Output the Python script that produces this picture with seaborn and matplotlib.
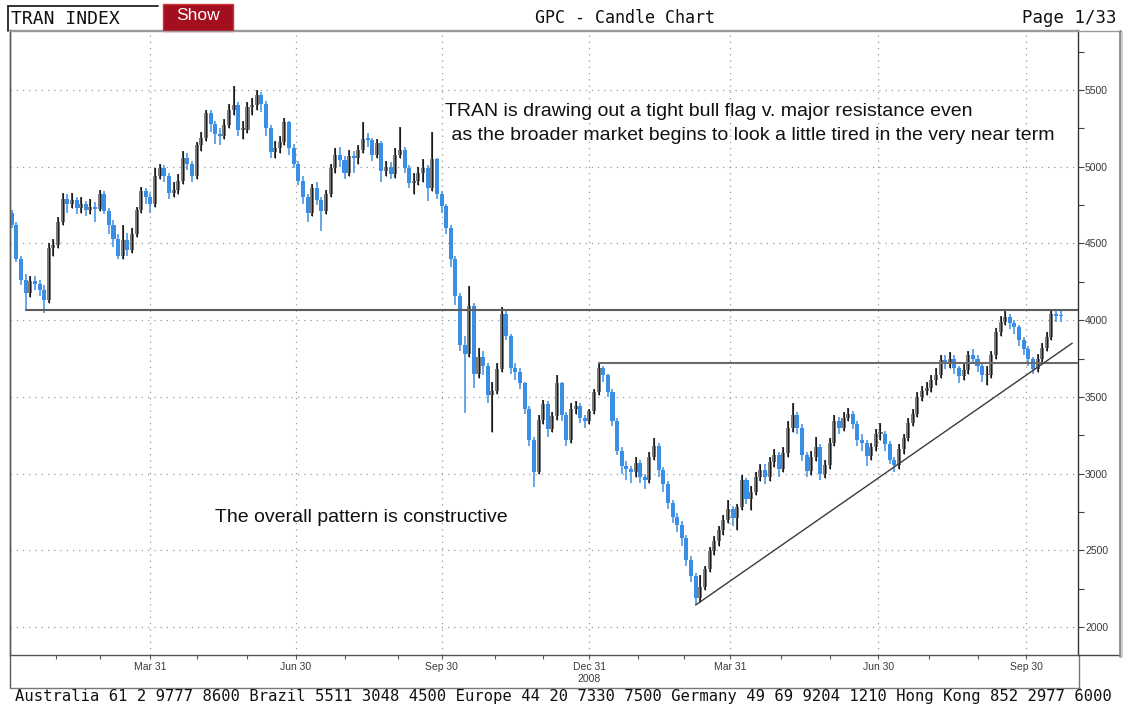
import numpy as np
import pandas as pd
import matplotlib
matplotlib.use("Agg")
import matplotlib.pyplot as plt
import seaborn as sns
from matplotlib.lines import Line2D
from matplotlib.patches import Rectangle
from pandas.tseries.offsets import CustomBusinessDay

# ---------------- data ----------------
# one candle per two trading days, starting 3 Jan 2007
first_open = 4700
close = [
    4621, 4400, 4260, 4180, 4255, 4235, 4200, 4132, 4470, 4490,
    4640, 4790, 4760, 4784, 4730, 4755, 4720, 4735, 4725, 4825,
    4715, 4621, 4530, 4420, 4520, 4460, 4560, 4720, 4840, 4805,
    4760, 4940, 4990, 4940, 4830, 4850, 4905, 5060, 5020, 4940,
    5140, 5190, 5350, 5280, 5215, 5200, 5275, 5370, 5400, 5240,
    5240, 5390, 5400, 5470, 5410, 5250, 5095, 5125, 5160, 5290,
    5120, 5020, 4910, 4800, 4700, 4860, 4785, 4710, 4820, 4990,
    5080, 5045, 4960, 5070, 5055, 5110, 5180, 5175, 5080, 5156,
    4970, 5000, 4950, 5080, 5110, 4995, 4895, 4910, 4960, 4990,
    4860, 5050, 4820, 4745, 4600, 4400, 4160, 3840, 3780, 4090,
    3650, 3760, 3700, 3510, 3540, 3680, 4040, 3900, 3690, 3660,
    3590, 3420, 3220, 3010, 3350, 3455, 3290, 3375, 3590, 3380,
    3220, 3420, 3440, 3360, 3340, 3405, 3530, 3690, 3640, 3530,
    3340, 3150, 3050, 3030, 3010, 3070, 2975, 2955, 3110, 3180,
    3020, 2935, 2810, 2720, 2665, 2580, 2435, 2330, 2190, 2260,
    2380, 2495, 2560, 2630, 2700, 2770, 2710, 2780, 2955, 2835,
    2880, 2980, 3025, 2975, 3075, 3120, 3030, 3135, 3300, 3385,
    3300, 3120, 3015, 3110, 3170, 3000, 3056, 3200, 3345, 3300,
    3360, 3390, 3320, 3220, 3200, 3115, 3170, 3260, 3260, 3190,
    3090, 3056, 3160, 3230, 3330, 3390, 3500, 3540, 3560, 3610,
    3640, 3740, 3720, 3750, 3685, 3635, 3675, 3770, 3750, 3700,
    3640, 3640, 3770, 3920, 3990, 4020, 3980, 3956, 3870, 3810,
    3745, 3680, 3750, 3820, 3890, 4040, 4030, 4025,
]
high = [
    4720, 4640, 4420, 4300, 4290, 4290, 4260, 4230, 4500, 4530,
    4670, 4830, 4820, 4830, 4800, 4800, 4780, 4790, 4770, 4850,
    4840, 4730, 4650, 4560, 4620, 4570, 4600, 4740, 4870, 4860,
    4830, 4990, 5020, 5010, 4960, 4900, 4950, 5100, 5090, 5040,
    5160, 5230, 5370, 5370, 5300, 5250, 5310, 5410, 5530, 5420,
    5300, 5420, 5450, 5500, 5490, 5430, 5270, 5170, 5200, 5320,
    5300, 5150, 5040, 4940, 4820, 4890, 4900, 4800, 4850, 5020,
    5120, 5130, 5070, 5110, 5100, 5140, 5290, 5220, 5190, 5180,
    5170, 5040, 5030, 5120, 5260, 5130, 5010, 4960, 5000, 5050,
    5010, 5230, 5060, 4840, 4760, 4620, 4420, 4180, 3900, 4220,
    4110, 3820, 3800, 3720, 3600, 3720, 4085, 4060, 3910, 3720,
    3690, 3600, 3440, 3240, 3380, 3480, 3470, 3400, 3640, 3600,
    3400, 3460, 3470, 3460, 3380, 3420, 3550, 3720, 3700, 3650,
    3550, 3360, 3170, 3080, 3050, 3110, 3090, 3000, 3140, 3230,
    3200, 3040, 2950, 2830, 2740, 2690, 2600, 2460, 2350, 2340,
    2400, 2520, 2590, 2660, 2730, 2830, 2790, 2800, 2990, 2970,
    2920, 3010, 3060, 3060, 3110, 3160, 3140, 3170, 3340, 3460,
    3400, 3320, 3140, 3150, 3240, 3190, 3090, 3230, 3380, 3370,
    3400, 3430, 3410, 3340, 3260, 3220, 3200, 3290, 3330, 3280,
    3210, 3110, 3190, 3260, 3360, 3420, 3530, 3570, 3600, 3640,
    3690, 3770, 3770, 3790, 3770, 3700, 3720, 3800, 3810, 3770,
    3720, 3700, 3800, 3950, 4030, 4060, 4040, 4000, 3970, 3890,
    3830, 3760, 3780, 3850, 3920, 4070, 4070, 4060,
]
low = [
    4600, 4380, 4230, 4067, 4150, 4200, 4160, 4047, 4110, 4420,
    4470, 4620, 4700, 4730, 4690, 4700, 4680, 4690, 4640, 4710,
    4690, 4560, 4480, 4400, 4400, 4420, 4440, 4540, 4700, 4760,
    4700, 4740, 4920, 4900, 4790, 4800, 4820, 4890, 4980, 4900,
    4920, 5100, 5170, 5230, 5150, 5140, 5180, 5250, 5340, 5200,
    5180, 5220, 5340, 5370, 5360, 5200, 5060, 5060, 5090, 5140,
    5080, 4990, 4880, 4760, 4640, 4680, 4750, 4580, 4690, 4800,
    4960, 5000, 4920, 4940, 4960, 5020, 5090, 5130, 5040, 5060,
    4900, 4940, 4920, 4930, 5060, 4960, 4860, 4820, 4880, 4900,
    4780, 4840, 4790, 4700, 4560, 4350, 4100, 3800, 3395, 3760,
    3560, 3620, 3640, 3460, 3270, 3520, 3660, 3870, 3650, 3610,
    3550, 3390, 3180, 2913, 3000, 3320, 3240, 3270, 3350, 3340,
    3180, 3200, 3390, 3330, 3300, 3320, 3390, 3510, 3600, 3500,
    3310, 3120, 3000, 2960, 2940, 2980, 2940, 2900, 2940, 3090,
    2980, 2880, 2770, 2680, 2620, 2530, 2400, 2290, 2143, 2160,
    2240, 2360, 2470, 2530, 2600, 2680, 2660, 2630, 2760, 2800,
    2760, 2860, 2950, 2930, 2950, 3040, 2980, 3010, 3110, 3270,
    3260, 3080, 2980, 2990, 3080, 2960, 2970, 3030, 3180, 3260,
    3280, 3340, 3290, 3180, 3150, 3050, 3090, 3150, 3220, 3150,
    3060, 3010, 3030, 3130, 3210, 3310, 3370, 3470, 3510, 3530,
    3580, 3620, 3680, 3690, 3650, 3590, 3610, 3650, 3720, 3660,
    3600, 3580, 3620, 3750, 3900, 3970, 3940, 3910, 3830, 3770,
    3700, 3650, 3660, 3730, 3800, 3870, 3990, 3990,
]

# NYSE holidays for the trading-day axis
holidays = ["2007-01-01", "2007-01-02", "2007-01-15", "2007-02-19", "2007-04-06",
            "2007-05-28", "2007-07-04", "2007-09-03", "2007-11-22", "2007-12-25",
            "2008-01-01", "2008-01-21", "2008-02-18", "2008-03-21", "2008-05-26",
            "2008-07-04", "2008-09-01", "2008-11-27", "2008-12-25"]
quarter_dates = ["2007-03-30", "2007-06-29", "2007-09-28", "2007-12-31",
                 "2008-03-31", "2008-06-30", "2008-09-30"]
quarter_labels = ["Mar 31", "Jun 30", "Sep 30", "Dec 31\n2008", "Mar 31", "Jun 30", "Sep 30"]

resistance_level = 4065
neckline_level = 3720
neckline_start_candle = 127
trend_start = (148, 2143)      # (candle, value)
trend_end = (229.5, 3850)      # (candle, value)

y_ticks = [2000, 2500, 3000, 3500, 4000, 4500, 5000, 5500]

text_top1 = "TRAN is drawing out a tight bull flag v. major resistance even"
text_top2 = " as the broader market begins to look a little tired in the very near term"
text_mid = "The overall pattern is constructive"
footer = ("Australia 61 2 9777 8600 Brazil 5511 3048 4500 Europe 44 20 7330 7500 "
          "Germany 49 69 9204 1210 Hong Kong 852 2977 6000")

# ---------------- figure ----------------
sns.set_theme(style="white")
plt.rcParams["font.family"] = ["Liberation Sans", "DejaVu Sans"]

W, H = 1124, 708
fig = plt.figure(figsize=(W / 100, H / 100), dpi=100)
fig.patch.set_facecolor("white")


def fx(px):
    return px / W


def fy(py):
    return 1 - py / H


ax = fig.add_axes([fx(10), fy(655), (1078 - 10) / W, (655 - 30) / H])
ax.set_facecolor("white")

cbd = CustomBusinessDay(holidays=pd.to_datetime(holidays))
days = pd.date_range("2007-01-03", "2008-12-31", freq=cbd)
day_index = pd.Series(np.arange(len(days)), index=days)

c = np.array(close, float)
o = np.r_[first_open, c[:-1]]
h = np.maximum(np.array(high, float), np.maximum(o, c))
l = np.minimum(np.array(low, float), np.minimum(o, c))
pos = np.arange(len(c)) * 2.0   # trading-day index of each candle

up = c >= o
blue = "#3a8ee6"
body_col = np.where(up, "#7d7d7d", blue)
wick_col = np.where(up, "#1a1a1a", blue)

ax.vlines(pos, l, h, colors=wick_col, linewidth=1.1, zorder=3)
ax.bar(pos, np.maximum(np.abs(c - o), 10), bottom=np.minimum(o, c), width=1.75,
       color=body_col, linewidth=0, zorder=4)
ax.vlines(pos[up], l[up], h[up], colors="#1a1a1a", linewidth=0.8, zorder=5)

xmax = 461.5
res_df = pd.DataFrame({"x": [pos[3], xmax], "y": [resistance_level] * 2})
neck_df = pd.DataFrame({"x": [pos[neckline_start_candle], xmax], "y": [neckline_level] * 2})
trend_df = pd.DataFrame({"x": [trend_start[0] * 2, trend_end[0] * 2],
                         "y": [trend_start[1], trend_end[1]]})
sns.lineplot(data=res_df, x="x", y="y", ax=ax, color="#5c5c5c", linewidth=1.5, zorder=6)
sns.lineplot(data=neck_df, x="x", y="y", ax=ax, color="#6a6a6a", linewidth=1.5, zorder=6)
sns.lineplot(data=trend_df, x="x", y="y", ax=ax, color="#3a3a3a", linewidth=1.0, zorder=6)

ax.set_xlim(-0.8, xmax)
ax.set_ylim(1817, 5892)
ax.set_xlabel("")
ax.set_ylabel("")

q_pos = day_index.loc[pd.to_datetime(quarter_dates)].values
month_end = day_index.groupby(days.to_period("M")).max().values
month_end = month_end[month_end < xmax]
ax.set_xticks(q_pos)
ax.set_xticklabels(quarter_labels)
ax.set_xticks(month_end, minor=True)
ax.tick_params(axis="x", which="both", direction="out", length=3, width=0.8,
               color="#555555", labelsize=7.5, labelcolor="#3a3a3a", pad=2, bottom=True)

ax.yaxis.tick_right()
ax.set_yticks(y_ticks)
ax.set_yticklabels([str(v) for v in y_ticks])
ax.set_yticks(np.arange(2250, 5800, 500), minor=True)
ax.tick_params(axis="y", which="both", direction="out", length=4, width=0.8,
               color="#444444", labelsize=7.5, labelcolor="#3a3a3a", pad=1, right=True, left=False)

ax.grid(True, which="major", linestyle=(0, (1, 4)), color="#9a9a9a", linewidth=0.9)
ax.set_axisbelow(True)
for side, col in [("left", "#5a5a5a"), ("top", "#9a9a9a"), ("right", "#333333"), ("bottom", "#555555")]:
    ax.spines[side].set_visible(True)
    ax.spines[side].set_color(col)
    ax.spines[side].set_linewidth(1.0)

# frame decorations
fig.add_artist(Line2D([fx(10), fx(10)], [fy(30), fy(688)], color="#5a5a5a", lw=1.0))
fig.add_artist(Line2D([fx(10), fx(1080)], [fy(688), fy(688)], color="#777777", lw=1.0))
fig.add_artist(Line2D([fx(1079), fx(1079)], [fy(655), fy(688)], color="#777777", lw=1.0))
fig.add_artist(Line2D([fx(10), fx(1121)], [fy(30.5), fy(30.5)], color="#9a9a9a", lw=1.0))
fig.add_artist(Line2D([fx(1078), fx(1120)], [fy(655), fy(655)], color="#444444", lw=1.0))
fig.add_artist(Line2D([fx(1120), fx(1120)], [fy(31), fy(656)], color="#8a8a8a", lw=2.0))
fig.add_artist(Line2D([fx(1122), fx(1122)], [fy(33), fy(657)], color="#cfcfcf", lw=1.5))

# header
fig.add_artist(Line2D([fx(8), fx(158)], [fy(6), fy(6)], color="#222222", lw=1.3))
fig.add_artist(Line2D([fx(8), fx(8)], [fy(6), fy(31)], color="#222222", lw=1.3))
fig.text(fx(11), fy(19), "TRAN INDEX", family=["DejaVu Sans Mono"], fontsize=13,
         va="center", ha="left", color="#111111")
fig.add_artist(Rectangle((fx(163), fy(31)), (233 - 163) / W, 27 / H,
                         transform=fig.transFigure, facecolor="#a30f1f",
                         edgecolor="#d0303a", linewidth=1.0))
fig.text(fx(198), fy(16), "Show", fontsize=12.5, color="white", ha="center", va="center")
fig.text(fx(625), fy(18), "GPC - Candle Chart", family=["DejaVu Sans Mono"], fontsize=12,
         ha="center", va="center", color="#111111")
fig.text(fx(1116), fy(18), "Page 1/33", family=["DejaVu Sans Mono"], fontsize=12.5,
         ha="right", va="center", color="#111111")

# annotations
fig.text(fx(445), fy(111), text_top1, fontsize=14, ha="left", va="center", color="#111111")
fig.text(fx(446), fy(136), text_top2, fontsize=14, ha="left", va="center", color="#111111")
fig.text(fx(215), fy(518), text_mid, fontsize=14, ha="left", va="center", color="#111111")

# footer
fig.text(fx(15), fy(697), footer, family=["DejaVu Sans Mono"], fontsize=11.2,
         ha="left", va="center", color="#111111")

fig.savefig("out.png", dpi=100, facecolor="white")
